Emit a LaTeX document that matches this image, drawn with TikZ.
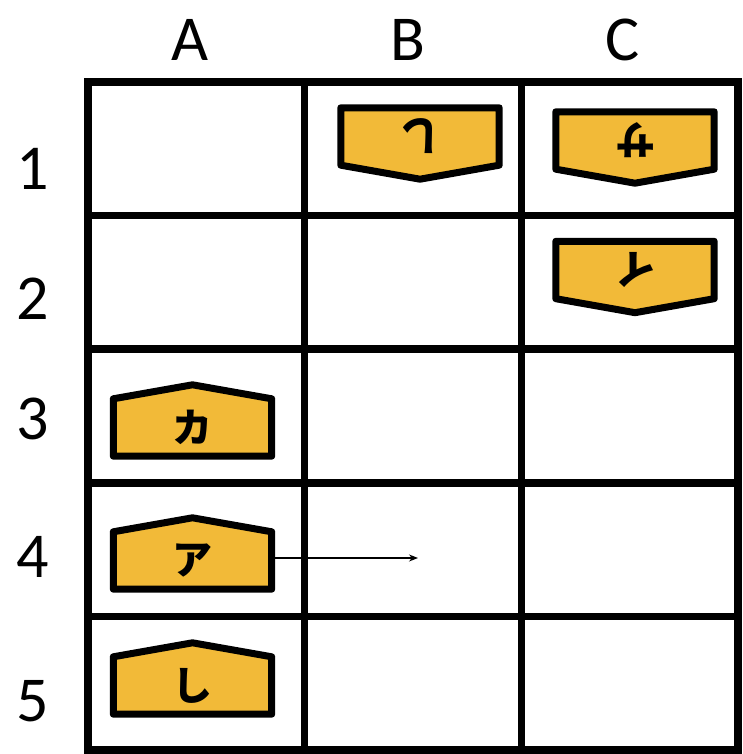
\documentclass[tikz,border=0pt]{standalone}
\usepackage{fontspec}
\setmainfont{Carlito}
\newfontfamily\cjk{Noto Sans CJK JP}
\usetikzlibrary{calc,arrows.meta,backgrounds}
\definecolor{piecefill}{RGB}{242,186,56}
\tikzset{
  gridline/.style={line width=7.5pt,line cap=rect,line join=miter},
  hdr/.style={font=\fontsize{64}{70}\selectfont,anchor=base,inner sep=0pt},
  piece/.style={minimum width=158pt,minimum height=57pt,inner sep=0pt,
    font=\cjk\bfseries\fontsize{40}{44}\selectfont},
  pieceoutline/.style={draw=black,fill=piecefill,line width=7pt,line join=round},
  move/.style={line width=1.2pt,-{Stealth[length=9pt,width=7pt]}}
}
\newcommand{\pieceshape}[1]{%
  \begin{scope}[on background layer]
    \path[pieceoutline] (#1.south west) -- (#1.north west)
      -- ($(#1.north)!-14pt!(#1.south)$) -- (#1.north east)
      -- (#1.south east) -- cycle;
  \end{scope}}
\begin{document}
\begin{tikzpicture}[x=1pt,y=1pt]
\useasboundingbox (0,0) rectangle (742,754);
% grid
\draw[gridline] (88,4) rectangle (738,672);
\draw[gridline] (304.7,4) -- (304.7,672) (521.3,4) -- (521.3,672);
\draw[gridline] (88,538.4) -- (738,538.4) (88,404.8) -- (738,404.8)
  (88,271.2) -- (738,271.2) (88,137.6) -- (738,137.6);
% headers
\node[hdr] (hA) at (190,693) {A};
\node[hdr] (hB) at (408,693) {B};
\node[hdr] (hC) at (623,693) {C};
\node[hdr] (r1) at (33,564) {1};
\node[hdr] (r2) at (33,434) {2};
\node[hdr] (r3) at (33,314) {3};
\node[hdr] (r4) at (33,176) {4};
\node[hdr] (r5) at (33,32) {5};
% pieces
\node[piece,rotate=180] (b1) at (420,617.5) {し};
\node[piece,rotate=180] (c1) at (635,613.5) {サ};
\node[piece,rotate=180] (c2) at (635,484) {イ};
\node[piece] (a3) at (192.5,326.5) {カ};
\node[piece] (a4) at (192.5,193.5) {ア};
\node[piece] (a5) at (192.5,68.5) {し};
\pieceshape{b1}\pieceshape{c1}\pieceshape{c2}
\pieceshape{a3}\pieceshape{a4}\pieceshape{a5}
% move arrow
\coordinate (dest) at (418,196);
\draw[move] (a4.east |- dest) -- (dest);
\end{tikzpicture}
\end{document}
